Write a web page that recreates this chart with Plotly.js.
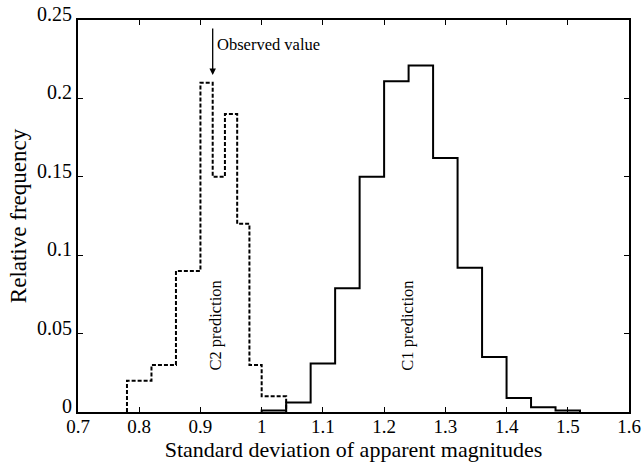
<!DOCTYPE html>
<html>
<head>
<meta charset="utf-8">
<script src="https://cdn.plot.ly/plotly-3.0.1.min.js"></script>
<style>html,body{margin:0;padding:0;background:#fff;}#chart{width:644px;height:464px;}</style>
</head>
<body>
<div id="chart"></div>
<script>
// C2 prediction histogram (dashed): bin edges and relative frequencies
const c2Edges = [0.78, 0.82, 0.86, 0.90, 0.92, 0.94, 0.96, 0.98, 1.00, 1.04];
const c2Freq  = [0.02, 0.03, 0.09, 0.21, 0.15, 0.19, 0.12, 0.03, 0.01];
// C1 prediction histogram (solid)
const c1Edges = [1.00, 1.04, 1.08, 1.12, 1.16, 1.20, 1.24, 1.28, 1.32, 1.36, 1.40, 1.44, 1.48, 1.52];
const c1Freq  = [0.001, 0.006, 0.031, 0.079, 0.15, 0.211, 0.221, 0.162, 0.092, 0.035, 0.009, 0.003, 0.001];
const xTicks = [0.7, 0.8, 0.9, 1.0, 1.1, 1.2, 1.3, 1.4, 1.5, 1.6];
const xTickLabels = ["0.7", "0.8", "0.9", "1", "1.1", "1.2", "1.3", "1.4", "1.5", "1.6"];
const yTicks = [0, 0.05, 0.1, 0.15, 0.2, 0.25];
const yTickLabels = ["0", "0.05", "0.1", "0.15", "0.2", "0.25"];
const observedValue = 0.92;

function stepXY(edges, freq) {
  const x = [edges[0]], y = [0];
  for (let i = 0; i < freq.length; i++) { x.push(edges[i]); y.push(freq[i]); }
  x.push(edges[edges.length - 1]); y.push(0);
  return {x, y};
}
const s2 = stepXY(c2Edges, c2Freq);
const s1 = stepXY(c1Edges, c1Freq);

const font = "Liberation Serif, Times New Roman, serif";
const traces = [
  {x: s2.x, y: s2.y, type: 'scatter', mode: 'lines', line: {shape: 'hv', color: '#000', width: 2, dash: '4px,2px'}, hoverinfo: 'skip'},
  {x: s1.x, y: s1.y, type: 'scatter', mode: 'lines', line: {shape: 'hv', color: '#000', width: 2}, hoverinfo: 'skip'}
];
const layout = {
  width: 644, height: 464,
  margin: {l: 78, r: 15, t: 20, b: 52},
  showlegend: false,
  paper_bgcolor: '#fff', plot_bgcolor: '#fff',
  font: {family: font, color: '#000', size: 16},
  xaxis: {
    range: [0.7, 1.6], tickvals: xTicks, ticktext: xTickLabels,
    ticks: 'inside', ticklen: 5, tickcolor: '#000', showgrid: false, zeroline: false,
    showline: true, linecolor: '#000', linewidth: 2, mirror: 'ticks',
    tickfont: {family: font, size: 19}, ticklabelstandoff: -4,
    title: {text: 'Standard deviation of apparent magnitudes', font: {family: font, size: 22}, standoff: 1}
  },
  yaxis: {
    range: [0, 0.25], tickvals: yTicks, ticktext: yTickLabels,
    ticks: 'inside', ticklen: 5, tickcolor: '#000', showgrid: false, zeroline: false,
    showline: true, linecolor: '#000', linewidth: 2, mirror: 'ticks',
    tickfont: {family: font, size: 20}, ticklabelshift: -6,
    title: {text: 'Relative frequency', font: {family: font, size: 23}, standoff: 4}
  },
  annotations: [
    {x: observedValue, y: 0.215, ax: observedValue, ay: 0.2455, xref: 'x', yref: 'y', axref: 'x', ayref: 'y',
     showarrow: true, arrowhead: 2, arrowsize: 1, arrowwidth: 1.3, arrowcolor: '#000', text: ''},
    {x: 0.924, y: 0.2345, xref: 'x', yref: 'y', text: 'Observed value', showarrow: false, xanchor: 'left',
     font: {family: font, size: 16.5}},
    {x: 0.925, y: 0.055, xref: 'x', yref: 'y', text: 'C2 prediction', showarrow: false, textangle: -90,
     font: {family: font, size: 16.5}},
    {x: 1.239, y: 0.055, xref: 'x', yref: 'y', text: 'C1 prediction', showarrow: false, textangle: -90,
     font: {family: font, size: 16.5}}
  ]
};
Plotly.newPlot('chart', traces, layout, {staticPlot: true, displayModeBar: false});
</script>
</body>
</html>
